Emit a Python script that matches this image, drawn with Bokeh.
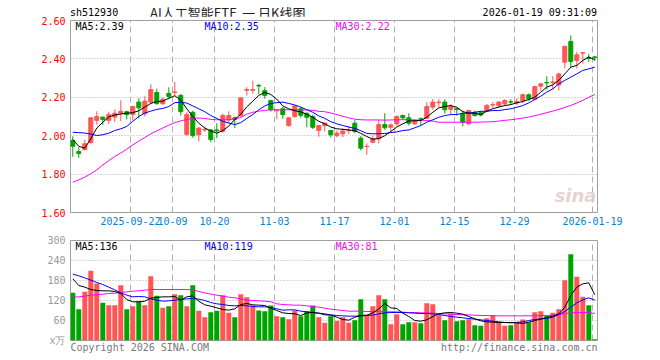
from bokeh.plotting import figure
from bokeh.models import Range1d, FixedTicker, Label, PrintfTickFormatter, Div
from bokeh.layouts import column
from bokeh.embed import file_html
from bokeh.resources import INLINE

# ---------------- data ----------------
open_ = [1.975,1.918,1.927,1.965,2.080,2.097,2.080,2.097,2.117,2.125,
         2.110,2.175,2.114,2.175,2.225,2.167,2.220,2.225,2.210,2.007,
         2.122,2.005,2.030,2.030,2.030,2.023,2.082,2.093,2.105,2.237,
         2.237,2.262,2.235,2.183,2.130,2.140,2.053,2.100,2.140,2.117,
         2.100,2.027,2.052,2.027,2.000,2.010,2.026,2.065,1.987,1.943,
         1.966,1.984,2.058,2.044,2.062,2.105,2.093,2.062,2.088,2.091,
         2.149,2.172,2.175,2.137,2.140,2.114,2.062,2.122,2.120,2.131,
         2.160,2.157,2.166,2.177,2.170,2.183,2.213,2.190,2.258,2.277,
         2.277,2.265,2.383,2.490,2.392,2.430,2.405,2.410]
high = [1.997,1.940,1.980,2.095,2.127,2.098,2.125,2.137,2.185,2.130,
        2.155,2.195,2.205,2.268,2.245,2.200,2.252,2.280,2.218,2.122,
        2.130,2.045,2.048,2.035,2.065,2.115,2.127,2.100,2.200,2.253,
        2.287,2.270,2.253,2.187,2.138,2.150,2.097,2.160,2.150,2.120,
        2.110,2.055,2.070,2.030,2.027,2.040,2.050,2.080,1.998,1.960,
        2.000,2.083,2.117,2.065,2.105,2.110,2.117,2.085,2.096,2.175,
        2.192,2.190,2.190,2.165,2.145,2.131,2.135,2.130,2.128,2.165,
        2.175,2.180,2.190,2.190,2.195,2.220,2.220,2.260,2.272,2.310,
        2.310,2.328,2.470,2.522,2.435,2.435,2.425,2.415]
low = [1.890,1.885,1.925,1.955,2.057,2.057,2.060,2.070,2.075,2.085,
       2.080,2.090,2.100,2.165,2.160,2.160,2.190,2.209,2.105,2.000,
       1.990,1.970,2.020,1.966,1.987,2.015,2.062,2.040,2.096,2.209,
       2.218,2.218,2.192,2.125,2.085,2.088,2.047,2.093,2.093,2.044,
       2.035,1.995,2.022,1.992,1.992,1.992,2.008,2.012,1.923,1.900,
       1.960,1.960,2.031,2.020,2.050,2.083,2.053,2.055,2.053,2.088,
       2.135,2.150,2.115,2.110,2.105,2.048,2.055,2.100,2.100,2.125,
       2.145,2.145,2.155,2.160,2.160,2.170,2.180,2.183,2.235,2.240,
       2.240,2.235,2.350,2.357,2.350,2.375,2.385,2.390]
close = [1.945,1.907,1.958,2.093,2.100,2.085,2.110,2.117,2.127,2.110,
         2.152,2.145,2.180,2.240,2.168,2.190,2.205,2.228,2.125,2.110,
         2.000,2.040,2.033,1.980,2.025,2.105,2.105,2.085,2.197,2.240,
         2.240,2.259,2.210,2.135,2.132,2.110,2.093,2.155,2.106,2.096,
         2.044,2.053,2.065,2.005,2.013,2.024,2.028,2.022,1.935,1.945,
         1.984,2.058,2.041,2.056,2.100,2.093,2.065,2.079,2.086,2.152,
         2.175,2.175,2.135,2.152,2.138,2.070,2.131,2.105,2.108,2.157,
         2.162,2.175,2.183,2.175,2.178,2.213,2.192,2.256,2.270,2.275,
         2.280,2.322,2.465,2.386,2.421,2.432,2.403,2.408]
volume = [143,94,146,209,171,113,106,106,166,94,
          103,118,106,193,134,98,103,139,136,103,
          166,89,70,85,89,136,83,70,139,130,
          105,90,88,105,73,70,64,90,73,88,
          105,70,53,73,59,70,53,61,124,76,
          103,136,124,49,79,49,55,55,52,112,
          109,76,61,81,58,61,64,46,44,67,
          76,55,44,46,56,63,55,85,88,74,
          83,94,181,259,191,131,106,4]
ma5 = [1.980,1.945,1.935,1.985,2.040,2.070,2.098,2.108,2.113,2.117,
       2.120,2.130,2.149,2.168,2.178,2.180,2.195,2.208,2.185,2.140,
       2.100,2.065,2.040,2.025,2.013,2.027,2.050,2.085,2.112,2.150,
       2.180,2.210,2.225,2.215,2.190,2.155,2.140,2.130,2.124,2.112,
       2.096,2.075,2.062,2.045,2.036,2.033,2.030,2.027,2.012,1.996,
       1.982,1.985,2.000,2.022,2.045,2.062,2.077,2.078,2.079,2.096,
       2.122,2.145,2.152,2.157,2.148,2.125,2.118,2.117,2.110,2.128,
       2.140,2.149,2.157,2.162,2.171,2.178,2.189,2.200,2.227,2.253,
       2.265,2.288,2.322,2.357,2.366,2.392,2.410,2.395]
ma10 = [2.018,2.016,2.014,2.008,2.001,2.005,2.013,2.027,2.036,2.048,
        2.075,2.100,2.118,2.128,2.137,2.142,2.152,2.172,2.174,2.170,
        2.155,2.140,2.125,2.105,2.090,2.075,2.066,2.058,2.068,2.090,
        2.110,2.135,2.155,2.168,2.172,2.175,2.168,2.160,2.149,2.135,
        2.122,2.103,2.090,2.073,2.062,2.053,2.045,2.038,2.026,2.012,
        2.010,2.010,2.012,2.016,2.020,2.027,2.030,2.041,2.053,2.070,
        2.083,2.096,2.105,2.110,2.110,2.117,2.117,2.122,2.127,2.127,
        2.131,2.131,2.136,2.140,2.148,2.157,2.171,2.189,2.206,2.227,
        2.244,2.270,2.288,2.305,2.322,2.340,2.348,2.357]
ma30 = [1.758,1.770,1.784,1.802,1.822,1.847,1.870,1.892,1.910,1.930,
        1.952,1.972,1.990,2.010,2.025,2.040,2.055,2.068,2.077,2.085,
        2.090,2.092,2.090,2.085,2.083,2.083,2.083,2.088,2.095,2.112,
        2.122,2.128,2.132,2.135,2.135,2.135,2.135,2.135,2.135,2.134,
        2.132,2.127,2.125,2.118,2.110,2.101,2.093,2.086,2.083,2.082,
        2.082,2.082,2.081,2.082,2.083,2.083,2.083,2.082,2.081,2.079,
        2.076,2.070,2.070,2.070,2.070,2.070,2.070,2.070,2.071,2.072,
        2.073,2.076,2.080,2.083,2.087,2.092,2.097,2.104,2.112,2.120,
        2.128,2.137,2.147,2.158,2.170,2.184,2.200,2.215]
vma5 = [185,165,160,153,150,149,149,147,141,123,
        116,116,118,127,129,131,131,132,121,131,
        134,118,107,103,98,93,91,95,108,111,
        107,106,105,97,90,83,81,80,75,83,
        84,82,77,76,70,63,61,70,75,76,
        83,95,111,98,96,82,72,60,58,62,
        72,80,83,84,82,79,72,65,59,56,
        55,54,54,54,53,51,55,60,64,69,
        73,80,100,135,160,170,173,137]
vma10 = [199,194,188,181,174,168,160,152,143,136,
         131,132,131,125,121,118,119,121,123,125,
         126,124,120,114,110,108,105,104,105,104,
         102,101,101,99,95,91,92,92,88,86,
         84,82,80,77,75,74,73,73,74,75,
         76,80,83,84,84,84,83,82,81,81,
         80,78,75,72,70,68,66,64,62,60,
         58,56,54,53,54,56,60,63,65,66,
         70,78,87,100,113,122,128,121]
vma30 = [130,131,133,136,137,139,141,142,144,146,
         148,149,151,153,153,153,153,153,153,153,
         152,147,143,139,136,133,130,128,125,121,
         120,119,118,116,110,108,107,106,106,104,
         102,100,97,94,92,90,88,88,88,87,
         87,87,86,86,86,85,84,84,83,83,
         82,81,80,79,78,77,77,76,75,75,
         74,74,74,74,74,74,74,74,75,75,
         76,78,80,83,84,84,84,81]
tick_idx = [10, 17, 24, 34, 44, 54, 64, 74, 87]
tick_labels = ["2025-09-22", "10-09", "10-20", "11-03", "11-17",
               "12-01", "12-15", "12-29", "2026-01-19"]
price_ticks = [1.6, 1.8, 2.0, 2.2, 2.4, 2.6]
vol_ticks = [0, 60, 120, 180, 240, 300]
footer_texts = ["Copyright 2026 SINA.COM", "http://finance.sina.com.cn"]

# ---------------- derived ----------------
RED = "#ff5555"
GREEN = "#00a400"
n = len(close)
cx = [i + 0.383 for i in range(n)]
colors = [RED if c >= o else GREEN for o, c in zip(open_, close)]
tops = [max(o, c) for o, c in zip(open_, close)]
bots = [min(o, c) for o, c in zip(open_, close)]

MONO = "DejaVu Sans Mono"
GRID = "#b0b0b0"
BORDER = "#a0a0a0"
PX = 6.0                      # pixels per trading day
FRAME_W = 527
x_range = Range1d(0, FRAME_W / PX)
CHAR_W = 6.02                 # DejaVu Sans Mono advance at 10px
# footer positions (centres, in day units): left text starts at frame left, right text ends at frame right
foot_pos = [len(footer_texts[0]) * CHAR_W / 2 / PX,
            (FRAME_W - len(footer_texts[1]) * CHAR_W / 2) / PX]


def style_axis(ax, color, standoff):
    ax.major_label_text_color = color
    ax.major_label_text_font = MONO
    ax.major_label_text_font_size = "10px"
    ax.major_label_standoff = standoff
    ax.major_tick_out = 0
    ax.major_tick_in = 0
    ax.minor_tick_out = 0
    ax.minor_tick_in = 0
    ax.axis_line_color = None


def lab(p, x, y, text, color="#000000", size="10px", font=MONO, align="left", baseline="middle", **kw):
    p.add_layout(Label(x=x, y=y, x_units="screen", y_units="screen", text=text,
                       text_color=color, text_font=font, text_font_size=size,
                       text_align=align, text_baseline=baseline, **kw))


# ---------------- header row ----------------
header = Div(
    text=("<div style=\"position:relative;width:652px;height:16px;\">"
          "<span style=\"position:absolute;left:70px;top:8px;font-family:'DejaVu Sans Mono';"
          "font-size:10px;line-height:10px;color:#000;white-space:nowrap;\">sh512930</span>"
          "<span style=\"position:absolute;left:150px;top:6px;font-family:'Noto Sans CJK SC';"
          "font-size:13px;line-height:13px;color:#222;white-space:nowrap;\">"
          "AI人工智能ETF&nbsp;&nbsp;一&nbsp;日K线图</span>"
          "<span style=\"position:absolute;right:55px;top:8px;font-family:'DejaVu Sans Mono';"
          "font-size:10px;line-height:10px;color:#000;white-space:nowrap;\">2026-01-19 09:31:09</span>"
          "</div>"),
    width=652, height=16, margin=0)

# ---------------- price panel ----------------
p1 = figure(width=652, height=216, x_range=x_range, y_range=Range1d(1.6, 2.6),
            output_backend="svg", toolbar_location=None,
            min_border_left=70, min_border_right=55, min_border_top=4, min_border_bottom=20)
p1.outline_line_color = BORDER
p1.outline_line_width = 1
p1.background_fill_color = "white"
p1.border_fill_color = "white"

ya = p1.yaxis[0]
ya.ticker = FixedTicker(ticks=price_ticks)
ya.formatter = PrintfTickFormatter(format="%.2f")
style_axis(ya, "#ff0000", 5)

xa = p1.xaxis[0]
xa.ticker = FixedTicker(ticks=tick_idx)
xa.major_label_overrides = {i: s for i, s in zip(tick_idx, tick_labels)}
style_axis(xa, "#0a80d0", 4)

p1.ygrid.ticker = FixedTicker(ticks=[1.8, 2.0, 2.2, 2.4])
p1.ygrid.grid_line_color = GRID
p1.ygrid.grid_line_dash = "1 2"
p1.xgrid.ticker = FixedTicker(ticks=tick_idx)
p1.xgrid.grid_line_color = GRID
p1.xgrid.grid_line_dash = "6 4"

p1.segment(x0=cx, y0=high, x1=cx, y1=low, color=colors, line_width=1)
p1.vbar(x=cx, width=0.67, top=tops, bottom=bots, fill_color=colors, line_color=colors, line_width=1)
p1.line(cx, ma30, color="#ff00ff", line_width=1)
p1.line(cx, ma10, color="#0000ff", line_width=1)
p1.line(cx, ma5, color="#000000", line_width=1)

lab(p1, 5, 186, "MA5:2.39", "#000000")
lab(p1, 134, 186, "MA10:2.35", "#0000ff")
lab(p1, 265, 186, "MA30:2.22", "#ff00ff")
lab(p1, 526, 17, "sina", "#e0c8c8", size="18px", font="DejaVu Sans", align="right",
    text_font_style="bold italic", text_alpha=0.8)

# ---------------- volume panel ----------------
p2 = figure(width=652, height=123, x_range=x_range, y_range=Range1d(0, 300),
            output_backend="svg", toolbar_location=None,
            min_border_left=70, min_border_right=55, min_border_top=8, min_border_bottom=14)
p2.outline_line_color = BORDER
p2.outline_line_width = 1
p2.background_fill_color = "white"
p2.border_fill_color = "white"

va = p2.yaxis[0]
va.ticker = FixedTicker(ticks=vol_ticks)
va.major_label_overrides = {0: "x万"}
style_axis(va, "#999999", 5)

fa = p2.xaxis[0]
fa.ticker = FixedTicker(ticks=foot_pos)
fa.major_label_overrides = {pos: t for pos, t in zip(foot_pos, footer_texts)}
style_axis(fa, "#777777", 1)

p2.ygrid.ticker = FixedTicker(ticks=[60, 120, 180, 240])
p2.ygrid.grid_line_color = GRID
p2.ygrid.grid_line_dash = "1 2"
p2.xgrid.ticker = FixedTicker(ticks=tick_idx)
p2.xgrid.grid_line_color = GRID
p2.xgrid.grid_line_dash = "6 4"

p2.vbar(x=cx, width=0.83, top=volume, bottom=0, fill_color=colors, line_color=None)
p2.line(cx, vma30, color="#ff00ff", line_width=1)
p2.line(cx, vma10, color="#0000ff", line_width=1)
p2.line(cx, vma5, color="#000000", line_width=1)

lab(p2, 5, 94, "MA5:136", "#000000")
lab(p2, 134, 94, "MA10:119", "#0000ff")
lab(p2, 265, 94, "MA30:81", "#ff00ff")

layout = column(header, p1, p2, spacing=0)
open("out.html", "w").write(file_html(layout, INLINE))
